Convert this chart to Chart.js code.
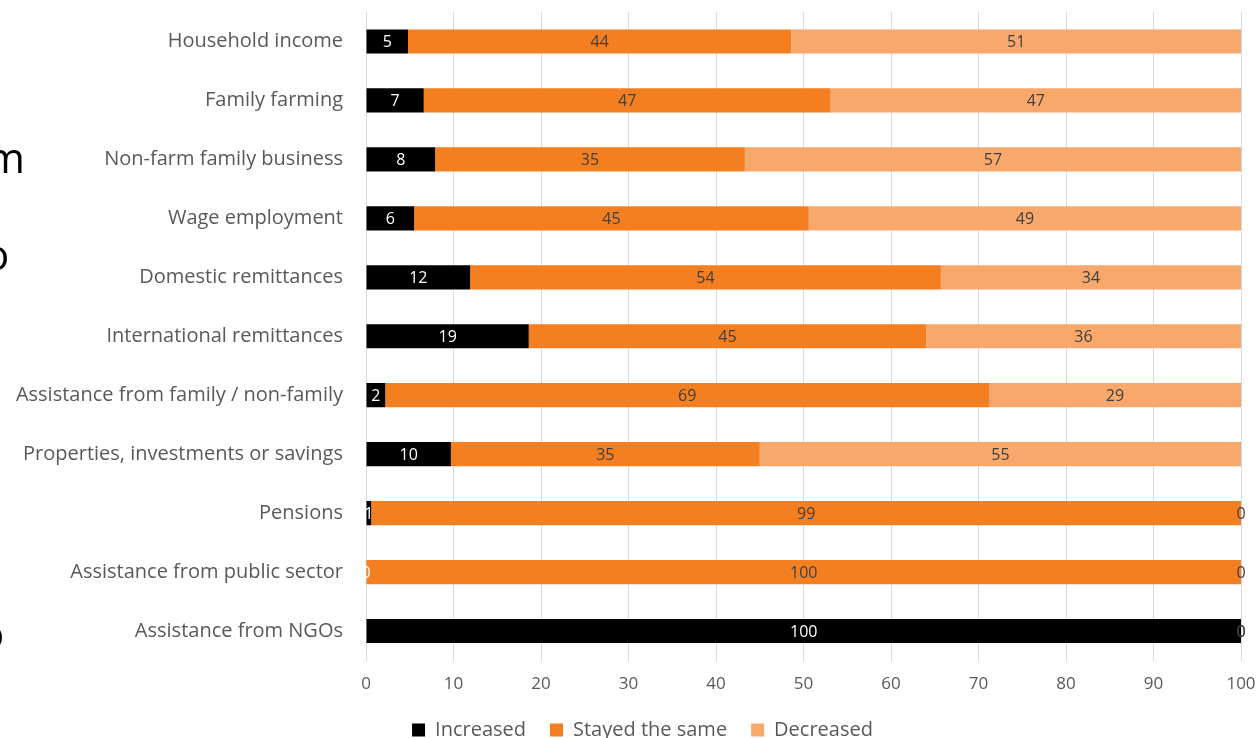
<!DOCTYPE html>
<html>
<head>
<meta charset="utf-8">
<script src="https://cdn.jsdelivr.net/npm/chart.js@4.4.1/dist/chart.umd.min.js"></script>
<style>
  html, body { margin: 0; padding: 0; background: #fff; overflow: hidden; }
  #wrap { position: relative; width: 1258px; height: 738px; overflow: hidden; }
  #chart { position: absolute; left: 0; top: 0; }
  .frag { position: absolute; font-family: "Open Sans", sans-serif; font-size: 42px; color: #000; line-height: 1; }
</style>
</head>
<body>
<div id="wrap">
  <canvas id="chart" width="1258" height="750"></canvas>
  <span class="frag" style="left:-14px; top:136px;">m</span>
  <span class="frag" style="left:-16px; top:233px;">o</span>
  <span class="frag" style="left:-21px; top:612px;">o</span>
</div>
<script>
// Income sources, top to bottom
const categories = [
    "Household income",
    "Family farming",
    "Non-farm family business",
    "Wage employment",
    "Domestic remittances",
    "International remittances",
    "Assistance from family / non-family",
    "Properties, investments or savings",
    "Pensions",
    "Assistance from public sector",
    "Assistance from NGOs"
];

// share of respondents (%)
const increased = [4.8, 6.6, 7.9, 5.5, 11.9, 18.6, 2.2, 9.7, 0.6, 0, 100];
const stayedSame = [43.8, 46.5, 35.4, 45.1, 53.8, 45.4, 69.0, 35.3, 99.4, 100, 0];
const decreased = [51.4, 46.9, 56.7, 49.4, 34.3, 36.0, 28.8, 55.0, 0, 0, 0];

const xTicks = [0, 10, 20, 30, 40, 50, 60, 70, 80, 90, 100];

const seriesNames = ["Increased", "Stayed the same", "Decreased"];
const seriesColors = ["#000000", "#F47F20", "#F8A86B"];
const labelColors = ["#ffffff", "#404040", "#404040"];

const FONT = "'Open Sans', sans-serif";

// value labels in the middle of each segment
const segmentLabels = {
    id: "segmentLabels",
    afterDatasetsDraw(chart) {
        const ctx = chart.ctx;
        ctx.save();
        ctx.font = "16px " + FONT;
        ctx.textAlign = "center";
        ctx.textBaseline = "middle";
        chart.data.datasets.forEach((ds, i) => {
            const meta = chart.getDatasetMeta(i);
            meta.data.forEach((bar, j) => {
                const cx = (bar.x + bar.base) / 2;
                ctx.fillStyle = labelColors[i];
                ctx.fillText(String(Math.round(ds.data[j])), cx, bar.y + 1);
            });
        });
        ctx.restore();
    }
};

// nudge the legend row a bit to the right, like the original
const legendShift = {
    id: "legendShift",
    afterLayout(chart) {
        if (chart.legend) {
            chart.legend.left += 22;
            chart.legend.right += 22;
        }
    }
};

const ctx = document.getElementById("chart").getContext("2d");

new Chart(ctx, {
    type: "bar",
    data: {
        labels: categories,
        datasets: [increased, stayedSame, decreased].map((d, i) => ({
            label: seriesNames[i],
            data: d,
            backgroundColor: seriesColors[i],
            borderWidth: 0,
            barPercentage: 0.41,
            categoryPercentage: 1
        }))
    },
    options: {
        indexAxis: "y",
        responsive: false,
        animation: false,
        layout: { padding: { top: 12, right: 17, left: 0, bottom: 0 } },
        scales: {
            x: {
                stacked: true,
                min: 0,
                max: 100,
                afterBuildTicks(scale) {
                    scale.ticks = xTicks.map(v => ({ value: v }));
                },
                afterFit(scale) {
                    scale.height = 35.5;
                    scale.paddingLeft = 0;
                    scale.paddingRight = 0;
                },
                grid: { color: "#d9d9d9", lineWidth: 1, drawTicks: false },
                border: { display: false },
                ticks: { color: "#595959", font: { family: FONT, size: 17 }, padding: 13 }
            },
            y: {
                stacked: true,
                afterFit(scale) {
                    scale.width = 366;
                    scale.paddingTop = 0;
                    scale.paddingBottom = 0;
                },
                grid: { display: false },
                border: { display: false },
                ticks: { color: "#595959", font: { family: FONT, size: 20 }, padding: 15 }
            }
        },
        plugins: {
            legend: {
                position: "bottom",
                labels: {
                    color: "#595959",
                    font: { family: FONT, size: 20 },
                    boxWidth: 13,
                    boxHeight: 13,
                    padding: 24
                }
            },
            tooltip: { enabled: false }
        }
    },
    plugins: [segmentLabels, legendShift]
});
</script>
</body>
</html>
